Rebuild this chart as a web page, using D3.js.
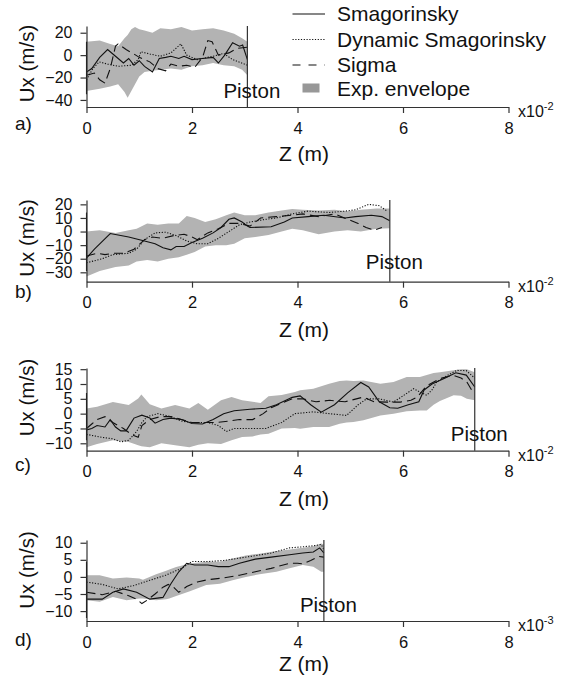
<!DOCTYPE html>
<html>
<head>
<meta charset="utf-8">
<script src="https://cdn.jsdelivr.net/npm/d3@7"></script>
<style>
body{margin:0;background:#fff;}
svg{display:block;font-family:"Liberation Sans",Arial,sans-serif;}
.axis path,.axis line{stroke:#333;stroke-width:1.2;}
.axis text{font-size:16.5px;fill:#111;font-family:"Liberation Sans",Arial,sans-serif;}
.yaxis text{font-size:16px;}
.series{fill:none;stroke:#111;stroke-width:1.1;}
</style>
</head>
<body>
<div id="chart"></div>
<script>
// z is given in the displayed unit (x10^-2 m for a-c, x10^-3 m for d), Ux in m/s
var seriesNames = ["Smagorinsky", "Dynamic Smagorinsky", "Sigma", "Exp. envelope"];
var zTicks = [0, 2, 4, 6, 8];
var pistons = [3.05, 5.75, 7.36, 4.5];
var exponents = ["-2", "-2", "-2", "-3"];
var yTicksA = [-40, -20, 0, 20];
var yTicksB = [-30, -20, -10, 0, 10, 20];
var yTicksC = [-10, -5, 0, 5, 10, 15];
var yTicksD = [-10, -5, 0, 5, 10];

// envelope rows: [z, low, high]
var envA = [[0,-32,12],[0.25,-30,13],[0.45,-28,10],[0.6,-26,8],[0.72,-33,15],[0.78,-38,18],[0.85,-32,23],[0.92,-26,25],[1.0,-19,23],[1.1,-15,22],[1.25,-14,20],[1.4,-13,24],[1.6,-12,23],[1.8,-13,25],[2.0,-10,22],[2.2,-9,23],[2.4,-7,24],[2.6,-9,22],[2.8,-10,19],[2.95,-13,15],[3.05,-18,12]];
var smagA = [[0,12],[0,-35],[0,-15],[0.1,-12],[0.25,-2],[0.4,5],[0.55,-1],[0.7,-7],[0.8,-3],[0.9,-9],[1.0,-5],[1.1,-10],[1.25,-15],[1.38,-3],[1.5,-2],[1.6,-1],[1.75,-3],[1.85,-1],[2.0,-4],[2.2,-3],[2.4,-2],[2.5,-7],[2.62,0],[2.77,11],[2.9,8],[2.96,9],[3.05,-4]];
var dynA = [[0,-22],[0.12,-12],[0.24,-6],[0.4,-8],[0.6,-10],[0.85,-9],[0.98,-4],[1.03,3],[1.2,1],[1.4,-1],[1.6,2],[1.79,10],[1.9,0],[2.1,-4],[2.4,-1],[2.6,1.5],[2.77,-4],[3.05,-9]];
var sigA = [[0,-18],[0.15,-16],[0.25,-22],[0.35,-25],[0.45,-12],[0.55,8],[0.6,10],[0.75,5],[0.9,1],[1.0,-2],[1.2,-6],[1.35,-12],[1.5,-14],[1.6,-8],[1.75,-10],[1.9,-9],[2.05,-11],[2.2,-2],[2.3,13],[2.38,12],[2.5,0],[2.7,2],[2.85,6],[3.05,7]];

var envB = [[0,-33,0],[0.25,-29,1],[0.55,-26,-1],[0.8,-25,1],[0.95,-22,2],[1.15,-21,6],[1.35,-22,5],[1.55,-20,6],[1.75,-19,6],[1.9,-17,11.5],[2.05,-15,10],[2.25,-11,7],[2.45,-10,9],[2.65,-10,12],[2.8,-9,14],[3.0,-5,12],[3.2,-4,12],[3.45,-2.5,14],[3.7,0,15.5],[3.9,2,16.5],[4.1,1,16],[4.4,-2,15.5],[4.7,0,16],[4.95,1,15],[5.2,0,16],[5.5,2,17],[5.75,2.5,17]];
var smagB = [[0,14],[0,-29],[0,-19.5],[0.15,-13],[0.45,-1.5],[0.8,-4],[1.1,-7],[1.3,-9],[1.45,-12],[1.6,-13.5],[1.7,-11],[1.85,-11],[2.0,-8],[2.2,-5],[2.4,-1],[2.55,3],[2.7,9],[2.8,10],[2.95,7],[3.05,4],[3.1,3],[3.5,3.5],[3.75,7],[3.9,10],[4.2,11],[4.5,12],[4.9,10],[5.1,11],[5.4,12],[5.6,11],[5.75,8]];
var dynB = [[0,-23],[0.3,-20],[0.5,-17],[0.8,-16],[0.95,-13],[1.1,-6],[1.3,-1],[1.5,-0.5],[1.7,-3],[1.9,-7],[2.1,-9],[2.3,-9],[2.5,-5],[2.7,0],[2.9,5],[3.1,7],[3.4,9],[3.6,10],[3.9,13],[4.2,15],[4.6,14],[4.9,15],[5.1,16],[5.35,20],[5.55,19],[5.7,15]];
var sigB = [[0,-18],[0.2,-16],[0.35,-17],[0.5,-16],[0.7,-16],[0.9,-13],[1.1,-6],[1.25,-4],[1.45,-5],[1.65,-3],[1.85,-2],[2.0,-4],[2.1,-6],[2.3,-1],[2.5,2],[2.7,6],[2.9,6],[3.1,4],[3.3,10],[3.6,11],[3.9,12],[4.1,13],[4.4,11],[4.7,13],[4.95,9],[5.15,6],[5.3,3],[5.45,1],[5.6,3]];

var envC = [[0,-11.3,1.7],[0.2,-10.2,2.3],[0.5,-9,3.9],[0.8,-9.6,2.9],[0.98,-10.7,5.1],[1.04,-11,6.5],[1.2,-11.3,3.2],[1.42,-10,1.7],[1.68,-10.7,2.9],[1.95,-11.3,1.7],[2.12,-10.5,3.6],[2.3,-10,1.3],[2.55,-10.2,4.5],[2.75,-9,5.6],[2.95,-7.9,4.5],[3.15,-7.7,4],[3.3,-7,3.6],[3.45,-6.8,5.9],[3.7,-5,6.3],[3.95,-4.8,7.3],[4.05,-5.1,7.9],[4.3,-4.5,8.4],[4.6,-4.5,10.1],[4.8,-3.4,11],[4.93,-3,11.2],[5.06,-2.8,11],[5.25,-2.2,11.2],[5.57,-0.6,10.1],[5.82,0,10.7],[6.07,0.8,12.4],[6.32,1.1,12.4],[6.45,1.1,13],[6.58,3,13.7],[6.7,4.3,14],[6.96,6.2,14.6],[7.1,6,15],[7.21,5,15],[7.36,4.5,14]];
var smagC = [[0,7],[0,-9],[0,-5.5],[0.1,-5],[0.2,-4],[0.35,-4.5],[0.45,-2],[0.55,-4.5],[0.65,-5.8],[0.75,-5.8],[0.9,-1.5],[1.05,-0.5],[1.2,-1.5],[1.3,-3.2],[1.45,-2],[1.6,-1.5],[1.8,-2],[2.0,-3.3],[2.2,-3.5],[2.4,-2],[2.6,0],[2.8,1],[3.1,1.5],[3.4,1.8],[3.6,3],[3.9,5.5],[4.05,6],[4.25,3],[4.45,0.5],[4.7,3],[4.95,7],[5.2,10.5],[5.35,9],[5.55,4],[5.75,2],[5.9,1.8],[6.1,3],[6.3,4],[6.4,8],[6.55,10],[6.8,12],[7.0,13.8],[7.2,13],[7.36,9]];
var dynC = [[0,-7],[0.15,-7.5],[0.3,-8],[0.5,-8.5],[0.65,-9.5],[0.8,-9],[0.95,-6],[1.05,-3],[1.15,-1],[1.35,0],[1.6,-1],[1.8,-2.5],[2.0,-3],[2.3,-3],[2.5,-4],[2.65,-6],[2.8,-5],[3.1,-5],[3.4,-5],[3.7,-3],[3.95,0],[4.3,0.6],[4.6,0],[4.93,-0.6],[5.15,3],[5.31,5],[5.55,5],[5.82,3.9],[6.0,6],[6.2,8.4],[6.35,7],[6.45,6.2],[6.55,8],[6.64,10.7],[6.85,13],[7.02,14.6],[7.2,14.5],[7.36,12]];
var sigC = [[0,-5],[0.1,-3.5],[0.2,-2],[0.35,-1],[0.5,-3],[0.7,-5],[0.85,-7],[0.98,-8],[1.05,-4],[1.2,-2],[1.4,-1],[1.6,-1],[1.8,-2],[2.0,-3],[2.2,-3],[2.45,-3],[2.7,-2.5],[2.9,-2],[3.15,-2],[3.35,0],[3.5,2],[3.7,3.5],[3.9,5],[4.1,5],[4.35,4],[4.61,4.5],[4.9,4],[5.25,5.6],[5.45,4],[5.7,3.9],[5.95,3.9],[6.15,4.5],[6.27,5.6],[6.45,9.4],[6.7,11.8],[6.95,13],[7.1,12],[7.21,10.7],[7.34,6.8]];

var envD = [[0,-6.8,0.5],[0.25,-7.3,0.5],[0.5,-5.9,-0.5],[0.76,-6.8,-0.2],[1.0,-6.3,-0.5],[1.07,-6.3,-0.8],[1.32,-6.8,0.8],[1.51,-6.5,1.8],[1.57,-6.3,2.2],[1.7,-5.6,2.9],[1.96,-4.2,3.9],[2.27,-2.4,4.4],[2.53,-2,4.4],[2.77,-1,5.4],[3.02,0,6.3],[3.28,0.8,6.8],[3.6,1.5,7.6],[3.85,2.5,8],[4.1,3.5,8.5],[4.3,3,9],[4.45,1.5,9.8],[4.5,1.5,9.5]];
var smagD = [[0,4.5],[0,-12],[0,-6.5],[0.3,-6.5],[0.5,-4.5],[0.7,-3.5],[0.95,-4.5],[1.2,-6.5],[1.45,-6],[1.6,-2],[1.75,1.5],[1.9,4],[2.05,3.5],[2.3,3.5],[2.5,3],[2.7,3],[2.9,4],[3.2,5.2],[3.5,5.8],[3.85,6.5],[4.1,7],[4.3,7.3],[4.42,8.5],[4.5,7]];
var dynD = [[0,-1.5],[0.3,-2.2],[0.6,-3.5],[0.9,-2.5],[1.2,-1],[1.5,0.5],[1.8,2.5],[2.0,4.5],[2.3,4.5],[2.6,4.8],[2.9,5.5],[3.2,6.2],[3.5,7],[3.85,8.5],[4.1,8.8],[4.35,9.2],[4.45,9.5],[4.5,8]];
var sigD = [[0,-4.5],[0.3,-5.2],[0.55,-4.2],[0.8,-5.5],[0.95,-6.5],[1.05,-7.8],[1.15,-6.8],[1.3,-5],[1.45,-3],[1.55,-2.2],[1.65,-3],[1.75,-4.5],[1.9,-2.8],[2.1,-1.5],[2.3,-0.8],[2.6,-0.3],[2.9,0.5],[3.2,1.5],[3.5,2.5],[3.85,4],[4.0,4],[4.1,3.8],[4.25,4.8],[4.4,6],[4.5,5.8]];

var w = 571;
var h = 680;

// pixel layout of each panel
var panels = [
    {label:"a)", env:envA, smag:smagA, dyn:dynA, sig:sigA, ticks:yTicksA, domain:[-46.3,26], bottom:107, top:26, labelY:129.5, zLabelY:161, uxY:63.5, pistonY:97.5},
    {label:"b)", env:envB, smag:smagB, dyn:dynB, sig:sigB, ticks:yTicksB, domain:[-36.9,23.2], bottom:281.7, top:200, labelY:298, zLabelY:337, uxY:238, pistonY:269},
    {label:"c)", env:envC, smag:smagC, dyn:dynC, sig:sigC, ticks:yTicksC, domain:[-12.5,15.4], bottom:450.7, top:368, labelY:471, zLabelY:506, uxY:397.5, pistonY:440.7},
    {label:"d)", env:envD, smag:smagD, dyn:dynD, sig:sigD, ticks:yTicksD, domain:[-12.9,10.8], bottom:621, top:540, labelY:646, zLabelY:671, uxY:570, pistonY:611.7}
];

var envFill = "#b3b3b3";
var legendFill = "#989898";
var dashSigma = "9,5";
var dotDyn = "1.2,1.6";

var svg = d3.select("#chart").append("svg")
    .attr("width", w).attr("height", h);

var xScale = d3.scaleLinear().domain([0, 8]).range([86.5, 508.5]);

function drawPanel(p, i){
    var yScale = d3.scaleLinear().domain(p.domain).range([p.bottom, p.top]);
    var g = svg.append("g");

    //envelope
    var area = d3.area()
        .x(function(d){ return xScale(d[0]); })
        .y0(function(d){ return yScale(d[1]); })
        .y1(function(d){ return yScale(d[2]); });
    g.append("path").datum(p.env)
        .attr("d", area)
        .attr("fill", envFill);

    var line = d3.line()
        .x(function(d){ return xScale(d[0]); })
        .y(function(d){ return yScale(d[1]); });

    g.append("path").datum(p.dyn).attr("class", "series")
        .attr("d", line).attr("stroke-dasharray", dotDyn);
    g.append("path").datum(p.sig).attr("class", "series")
        .attr("d", line).attr("stroke-dasharray", dashSigma);
    g.append("path").datum(p.smag).attr("class", "series")
        .attr("d", line);

    //piston wall
    g.append("line")
        .attr("x1", xScale(pistons[i])).attr("x2", xScale(pistons[i]))
        .attr("y1", p.top).attr("y2", p.bottom)
        .attr("stroke", "#333").attr("stroke-width", 1.2);
    g.append("text")
        .attr("x", xScale(pistons[i]) - 24).attr("y", p.pistonY)
        .attr("font-size", "20.5px").attr("fill", "#111")
        .text("Piston");

    //axes
    var yAxis = d3.axisLeft(yScale).tickValues(p.ticks)
        .tickSizeInner(6).tickSizeOuter(0).tickPadding(8);
    g.append("g").attr("class", "axis yaxis")
        .attr("transform", "translate(" + xScale(0) + ",0)")
        .call(yAxis);

    var xAxis = d3.axisBottom(xScale).tickValues(zTicks)
        .tickSizeInner(6).tickSizeOuter(0).tickPadding(9);
    g.append("g").attr("class", "axis")
        .attr("transform", "translate(0," + p.bottom + ")")
        .call(xAxis);

    //exponent
    var ex = g.append("text")
        .attr("x", 518).attr("y", p.bottom + 10)
        .attr("font-size", "16px").attr("fill", "#111");
    ex.append("tspan").text("x10");
    ex.append("tspan").attr("font-size", "11px").attr("dy", -7).text(exponents[i]);

    //labels
    g.append("text")
        .attr("x", 304).attr("y", p.zLabelY)
        .attr("text-anchor", "middle").attr("font-size", "21px").attr("fill", "#111")
        .text("Z (m)");
    g.append("text")
        .attr("transform", "translate(27," + p.uxY + ") rotate(-90)")
        .attr("text-anchor", "middle").attr("dy", "0.35em")
        .attr("font-size", "20.5px").attr("fill", "#111")
        .text("Ux (m/s)");
    g.append("text")
        .attr("x", 15).attr("y", p.labelY)
        .attr("font-size", "19px").attr("fill", "#111")
        .text(p.label);
}

panels.forEach(drawPanel);

//legend
var legendY = [21, 46.5, 72, 96];
var legend = svg.append("g");
legend.selectAll("text")
    .data(seriesNames)
    .enter()
    .append("text")
    .attr("x", 337)
    .attr("y", function(d, i){ return legendY[i]; })
    .attr("font-size", "21px").attr("fill", "#111")
    .text(function(d){ return d; });

var styles = [null, dotDyn, dashSigma];
styles.forEach(function(s, i){
    var l = legend.append("line")
        .attr("x1", 292.5).attr("x2", 325)
        .attr("y1", legendY[i] - 7).attr("y2", legendY[i] - 7)
        .attr("stroke", "#111").attr("stroke-width", 1.1);
    if(s){ l.attr("stroke-dasharray", i == 2 ? "8,8" : s); }
});
legend.append("rect")
    .attr("x", 302.5).attr("y", legendY[3] - 12.5)
    .attr("width", 17).attr("height", 9)
    .attr("fill", legendFill);
</script>
</body>
</html>
